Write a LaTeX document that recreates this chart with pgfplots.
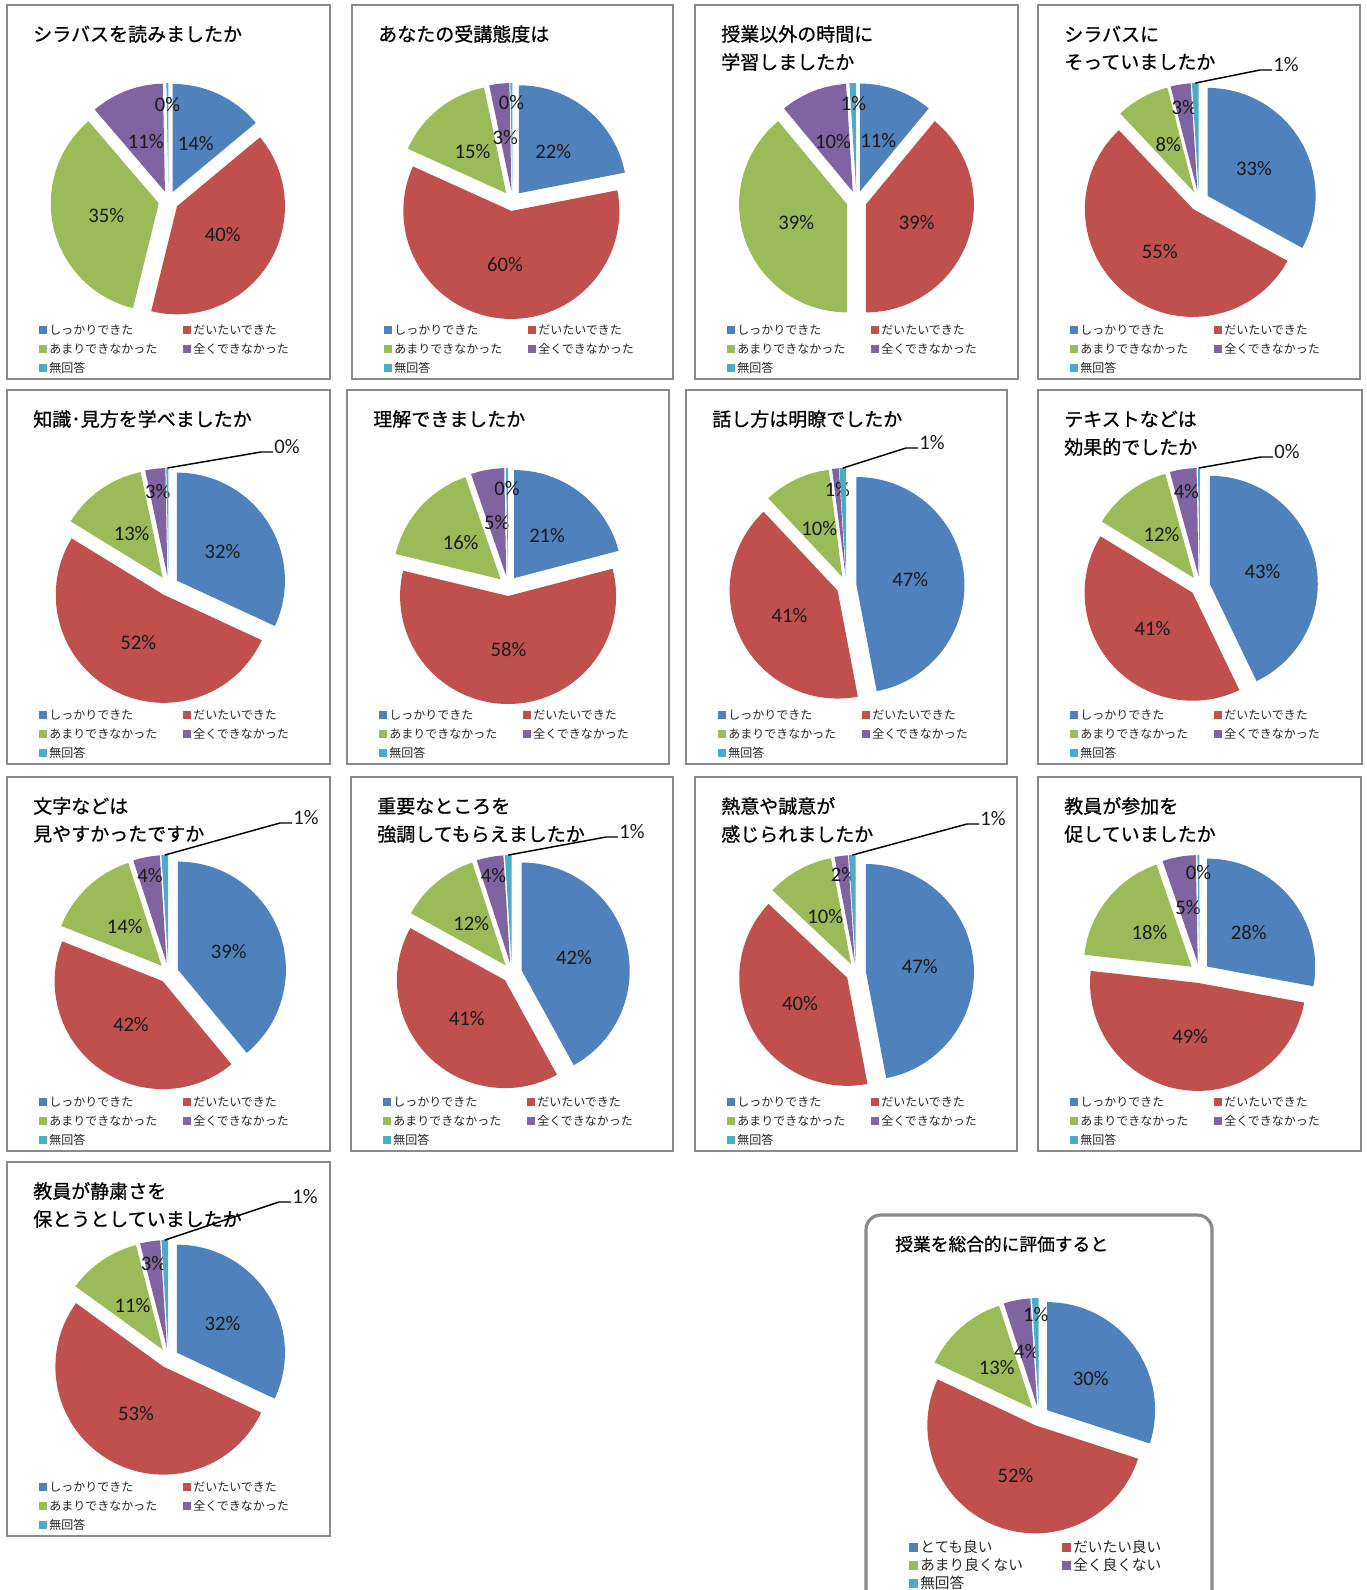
\documentclass[border=0pt]{standalone}
\usepackage{pgfplots}
\pgfplotsset{compat=1.18}
\usetikzlibrary{calc}
\usepackage{fontspec}
\setmainfont{Noto Sans CJK JP}
\newfontfamily\ttlfont{Noto Sans CJK JP}[FakeBold=0.8]
\newfontfamily\pctfont{Carlito}

\definecolor{pc1}{HTML}{4F81BD}
\definecolor{pc2}{HTML}{C0504D}
\definecolor{pc3}{HTML}{9BBB59}
\definecolor{pc4}{HTML}{8064A2}
\definecolor{pc5}{HTML}{4BACC6}
\definecolor{boxgray}{HTML}{8A8A8A}

\tikzset{
  pct/.style={inner sep=0pt, font=\pctfont\fontsize{15.5}{18}\selectfont, text=black!90},
  ttl/.style={inner sep=0pt, anchor=west, font=\ttlfont\fontsize{14.25}{17}\selectfont},
  ttlb/.style={inner sep=0pt, anchor=west, font=\ttlfont\fontsize{13.3}{16}\selectfont},
  lgd/.style={inner sep=0pt, anchor=west, font=\fontsize{9}{11}\selectfont, text=black!85},
  lgdb/.style={inner sep=0pt, anchor=west, font=\fontsize{11}{13}\selectfont, text=black!85},
}

% pie: #1 cx, #2 cy (px, from top), #3 list value/labeldistance (0 = leader), #4 #5 leader label centre
\newcommand\pie[5]{%
  \xdef\tot{0}%
  \foreach \v/\ld in {#3}{\pgfmathsetmacro\tnew{\tot+\v}\xdef\tot{\tnew}}%
  \xdef\cum{0}%
  \foreach \v/\ld [count=\i] in {#3}{%
    \pgfmathsetmacro\aA{90-360*(\cum/\tot)}%
    \pgfmathsetmacro\aB{90-360*((\cum+\v)/\tot)}%
    \pgfmathsetmacro\am{(\aA+\aB)/2}%
    \fill[pc\i] ($(axis cs:#1,#2)+(\am:7.5pt)$) -- ++(\aA:81pt)
      arc[start angle=\aA, end angle=\aB, radius=81pt] -- cycle;
    \pgfmathtruncatemacro\lab{round(\v)}%
    \pgfmathsetmacro\ldd{\ld*0.75}%
    \ifdim\ld pt>0pt
      \node[pct] at ($(axis cs:#1,#2)+(\am:\ldd pt)$) {\lab\%};
    \else
      \pgfmathsetmacro\lxa{#4-26}\pgfmathsetmacro\lxb{#4-14}\pgfmathsetmacro\lyl{#5+5}%
      \draw[black, line width=1.1pt] ($(axis cs:#1,#2)+(\am:88.5pt)$) -- (axis cs:\lxa,\lyl) -- (axis cs:\lxb,\lyl);
      \node[pct] at (axis cs:#4,#5) {\lab\%};
    \fi
    \pgfmathsetmacro\cnew{\cum+\v}\xdef\cum{\cnew}%
  }%
}

% legend entry: #1 marker left x, #2 centre y, #3 colour, #4 text, #5 marker size, #6 style
\newcommand\lentry[6]{%
  \pgfmathsetmacro\lxA{#1}\pgfmathsetmacro\lxB{#1+#5}%
  \pgfmathsetmacro\lyA{#2-#5/2}\pgfmathsetmacro\lyB{#2+#5/2}\pgfmathsetmacro\lxT{#1+#5+2}%
  \fill[#3] (axis cs:\lxA,\lyA) rectangle (axis cs:\lxB,\lyB);
  \node[#6] at (axis cs:\lxT,#2) {#4};
}

% chart box: #1 left, #2 top, #3 right, #4 title line 1, #5 title line 2
\newcommand\chartbox[5]{%
  \pgfmathsetmacro\bb{#2+374}%
  \draw[boxgray, line width=1.5pt] (axis cs:#1,#2) rectangle (axis cs:#3,\bb);
  \pgfmathsetmacro\tx{#1+26}\pgfmathsetmacro\tyA{#2+29}\pgfmathsetmacro\tyB{#2+57}%
  \node[ttl] at (axis cs:\tx,\tyA) {#4};
  \node[ttl] at (axis cs:\tx,\tyB) {#5};
  \pgfmathsetmacro\ca{#1+32}\pgfmathsetmacro\cb{#1+176}%
  \pgfmathsetmacro\ra{#2+325}\pgfmathsetmacro\rb{#2+344}\pgfmathsetmacro\rc{#2+363}%
  \lentry{\ca}{\ra}{pc1}{しっかりできた}{8}{lgd}
  \lentry{\cb}{\ra}{pc2}{だいたいできた}{8}{lgd}
  \lentry{\ca}{\rb}{pc3}{あまりできなかった}{8}{lgd}
  \lentry{\cb}{\rb}{pc4}{全くできなかった}{8}{lgd}
  \lentry{\ca}{\rc}{pc5}{無回答}{8}{lgd}
}

\begin{document}
\begin{tikzpicture}
\useasboundingbox (0,0) rectangle (1024.5pt,1192.5pt);
\clip (0,0) rectangle (1024.5pt,1192.5pt);
\begin{axis}[at={(0,0)}, anchor=south west,
  width=1024.5pt, height=1192.5pt, scale only axis,
  xmin=0, xmax=1366, ymin=0, ymax=1590,
  y dir=reverse, hide axis, clip=false]
\pgfplotsextra{%
  % boxes, titles, legends
  \chartbox{7}{5}{330}{シラバスを読みましたか}{}
  \chartbox{352}{5}{673}{あなたの受講態度は}{}
  \chartbox{695}{5}{1018}{授業以外の時間に}{学習しましたか}
  \chartbox{1038}{5}{1360}{シラバスに}{そっていましたか}
  \chartbox{7}{390}{330}{知識･見方を学べましたか}{}
  \chartbox{347}{390}{669}{理解できましたか}{}
  \chartbox{686}{390}{1007}{話し方は明瞭でしたか}{}
  \chartbox{1038}{390}{1362}{テキストなどは}{効果的でしたか}
  \chartbox{7}{777}{330}{文字などは}{見やすかったですか}
  \chartbox{351}{777}{673}{重要なところを}{強調してもらえましたか}
  \chartbox{695}{777}{1017}{熱意や誠意が}{感じられましたか}
  \chartbox{1038}{777}{1361}{教員が参加を}{促していましたか}
  \chartbox{7}{1162}{330}{教員が静粛さを}{保とうとしていましたか}
  % overall evaluation box
  \draw[boxgray, line width=2.4pt, rounded corners=11pt] (axis cs:866,1215) rectangle (axis cs:1212,1650);
  \node[ttlb] at (axis cs:895,1244) {授業を総合的に評価すると};
  \lentry{909}{1547}{pc1}{とても良い}{9}{lgdb}
  \lentry{1062}{1547}{pc2}{だいたい良い}{9}{lgdb}
  \lentry{909}{1565}{pc3}{あまり良くない}{9}{lgdb}
  \lentry{1062}{1565}{pc4}{全く良くない}{9}{lgdb}
  \lentry{909}{1583}{pc5}{無回答}{9}{lgdb}
  % pies
  \pie{168.5}{201}{14/64,40/64,35/64,11/64,0.3/96}{0}{0}
  \pie{512.5}{201}{22/64,60/64,15/64,3/64,0.3/98}{0}{0}
  \pie{856.5}{201}{11/64,39/64,39/64,10/64,1/98}{0}{0}
  \pie{1199}{201}{33/64,55/64,8/64,3/95,1/0}{1286}{65}
  \pie{168.5}{586}{32/64,52/64,13/64,3/95,0.3/0}{287}{447}
  \pie{508}{586}{21/64,58/64,16/64,5/64,0.3/97}{0}{0}
  \pie{846.5}{586}{47/64,41/64,10/64,1/97,1/0}{932}{443}
  \pie{1200}{586}{43/64,41/64,12/64,4/95,0.3/0}{1287}{452}
  \pie{168.5}{973}{39/64,42/64,14/64,4/99,1/0}{306}{818}
  \pie{512}{973}{42/64,41/64,12/64,4/99,1/0}{632}{832}
  \pie{856}{973}{47/64,40/64,10/64,2/99,1/0}{993}{819}
  \pie{1199.5}{973}{28/64,49/64,18/64,5/66,0.3/100}{0}{0}
  \pie{168.5}{1358}{32/64,53/64,11/64,3/96,1/0}{305}{1197}
  \pie{1039}{1416}{30/64,52/64,13/64,4/66,1/102}{0}{0}
}
\end{axis}
\end{tikzpicture}
\end{document}
